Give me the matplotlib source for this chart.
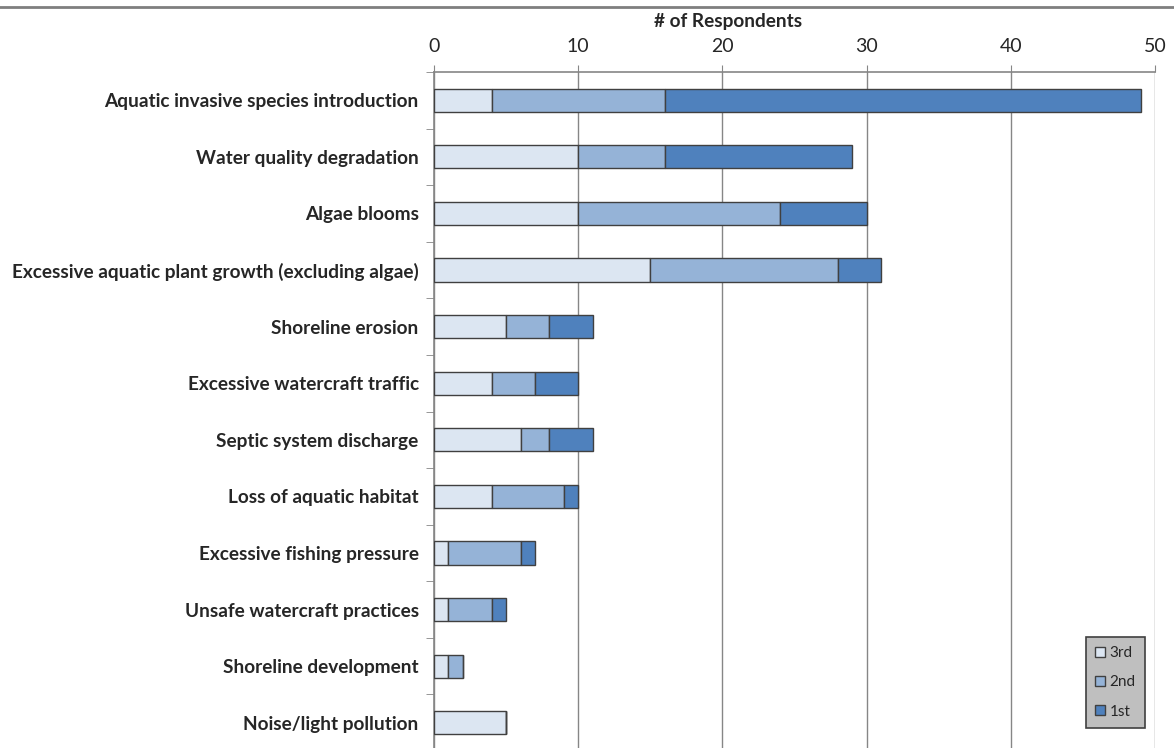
import matplotlib.pyplot as plt
from matplotlib.patches import Patch
from matplotlib.lines import Line2D

# Categories and ranks (3rd, 2nd, 1st choice counts)
categories = [
    "Aquatic invasive species introduction",
    "Water quality degradation",
    "Algae blooms",
    "Excessive aquatic plant growth (excluding algae)",
    "Shoreline erosion",
    "Excessive watercraft traffic",
    "Septic system discharge",
    "Loss of aquatic habitat",
    "Excessive fishing pressure",
    "Unsafe watercraft practices",
    "Shoreline development",
    "Noise/light pollution",
]
third = [4, 10, 10, 15, 5, 4, 6, 4, 1, 1, 1, 5]
second = [12, 6, 14, 13, 3, 3, 2, 5, 5, 3, 1, 0]
first = [33, 13, 6, 3, 3, 3, 3, 1, 1, 1, 0, 0]
x_ticks = [0, 10, 20, 30, 40, 50]

c3, c2, c1 = "#dce6f2", "#95b3d7", "#4f81bd"
edge = "#404040"
grid_c = "#868686"
txt_c = "#262626"

plt.rcParams['font.family'] = ['Lato', 'DejaVu Sans']

fig = plt.figure(figsize=(11.74, 7.48), dpi=100)
ax = fig.add_axes([434 / 1174, -3 / 748, (1155 - 434) / 1174, (751 - 72) / 748])

pos = list(range(len(categories)))
h = 0.41
left2 = [a for a in third]
left1 = [a + b for a, b in zip(third, second)]
ax.barh(pos, third, height=h, color=c3, edgecolor=edge, linewidth=1, zorder=3)
ax.barh(pos, second, left=left2, height=h, color=c2, edgecolor=edge, linewidth=1, zorder=3)
ax.barh(pos, first, left=left1, height=h, color=c1, edgecolor=edge, linewidth=1, zorder=3)

ax.set_xlim(0, 50)
ax.set_ylim(len(categories) - 0.5, -0.5)

ax.xaxis.tick_top()
ax.set_xticks(x_ticks)
ax.tick_params(axis='x', direction='out', length=5, color=grid_c, labelsize=14,
               labelcolor=txt_c, pad=7)
ax.grid(axis='x', color=grid_c, linewidth=1, zorder=0)

ax.set_yticks(pos)
ax.set_yticklabels(categories, fontweight='bold', fontsize=13.7, color=txt_c)
ax.tick_params(axis='y', which='major', length=0, pad=11)
ax.set_yticks([p - 0.5 for p in range(len(categories) + 1)], minor=True)
ax.tick_params(axis='y', which='minor', length=6, color=grid_c, direction='out')

for s in ['right', 'bottom']:
    ax.spines[s].set_visible(False)
for s in ['top', 'left']:
    ax.spines[s].set_color(grid_c)
    ax.spines[s].set_linewidth(1.2)

fig.text(728 / 1174, 1 - 21 / 748, "# of Respondents", ha='center', va='center',
         fontsize=13.7, fontweight='bold', color=txt_c)

# thin rule across the top of the figure
fig.add_artist(Line2D([0, 1], [1 - 7 / 748, 1 - 7 / 748], color="#7f7f7f", linewidth=2,
                      transform=fig.transFigure))

handles = [Patch(facecolor=c3, edgecolor=edge, label="3rd"),
           Patch(facecolor=c2, edgecolor=edge, label="2nd"),
           Patch(facecolor=c1, edgecolor=edge, label="1st")]
leg = ax.legend(handles=handles, loc='upper left',
                bbox_to_anchor=(1086 / 1174, 1 - 637 / 748), bbox_transform=fig.transFigure,
                facecolor="#bfbfbf", edgecolor=edge, framealpha=1, fancybox=False,
                fontsize=11, handlelength=0.65, handleheight=0.65, handletextpad=0.3,
                labelspacing=1.0, borderpad=0.6, borderaxespad=0)
for t in leg.get_texts():
    t.set_color(txt_c)
leg.get_frame().set_linewidth(1.2)

fig.savefig("out.png", dpi=100)
